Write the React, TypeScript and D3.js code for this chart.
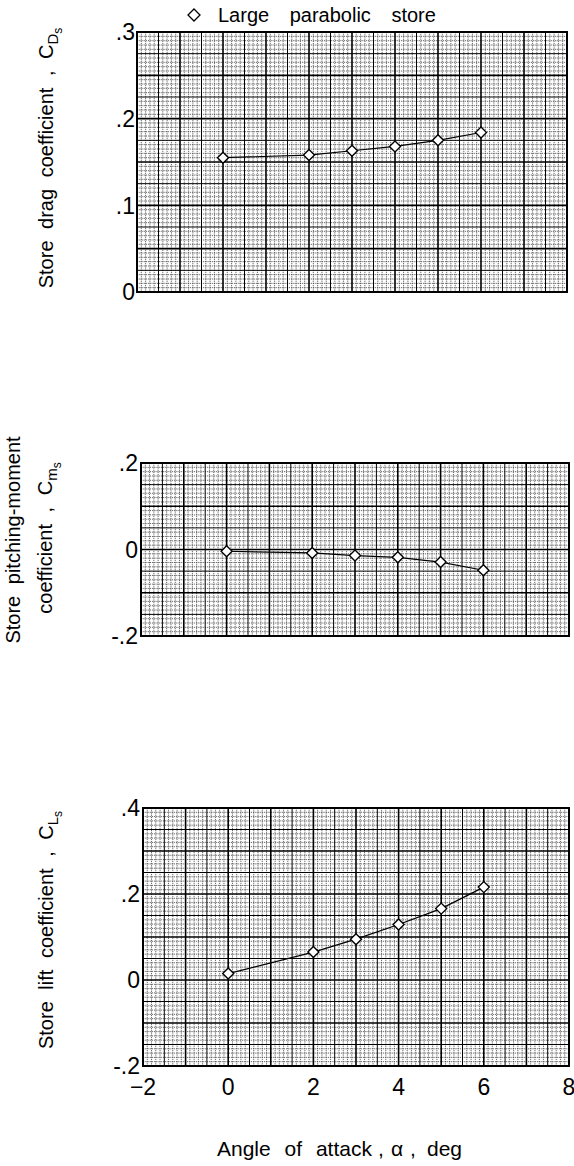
import React from "react";
import * as d3 from "d3";

const alpha = [0, 2, 3, 4, 5, 6];
const dragCoef = [0.155, 0.158, 0.163, 0.168, 0.175, 0.184];
const pitchCoef = [-0.004, -0.008, -0.014, -0.018, -0.029, -0.048];
const liftCoef = [0.015, 0.065, 0.095, 0.129, 0.166, 0.216];

const xTicks = [-2, 0, 2, 4, 6, 8];
const xTickLabels = ["\u22122", "0", "2", "4", "6", "8"];
const dragTicks = [0, 0.1, 0.2, 0.3];
const dragTickLabels = ["0", ".1", ".2", ".3"];
const pitchTicks = [-0.2, 0, 0.2];
const pitchTickLabels = ["-.2", "0", ".2"];
const liftTicks = [-0.2, 0, 0.2, 0.4];
const liftTickLabels = ["-.2", "0", ".2", ".4"];

const legendLabel = "Large parabolic store";
const xTitle = "Angle of attack";

const W = 574;
const H = 1166;
const FONT = "'Liberation Sans', Arial, sans-serif";

type Panel = {
  x0: number; x1: number; y0: number; y1: number;
  yDomain: [number, number];
  yFine: number;
  ticks: number[]; labels: string[];
  values: number[];
  labelRight: number;
};

const panels: Panel[] = [
  { x0: 137, x1: 567, y0: 32, y1: 292, yDomain: [0, 0.3], yFine: 0.005, ticks: dragTicks, labels: dragTickLabels, values: dragCoef, labelRight: 135 },
  { x0: 141, x1: 569, y0: 463, y1: 636, yDomain: [-0.2, 0.2], yFine: 0.01, ticks: pitchTicks, labels: pitchTickLabels, values: pitchCoef, labelRight: 138 },
  { x0: 143, x1: 569, y0: 808, y1: 1066, yDomain: [-0.2, 0.4], yFine: 0.01, ticks: liftTicks, labels: liftTickLabels, values: liftCoef, labelRight: 140 },
];

function diamond(cx: number, cy: number, r: number) {
  return `M${cx},${cy - r}L${cx + r},${cy}L${cx},${cy + r}L${cx - r},${cy}Z`;
}

function PanelView({ p, showX }: { p: Panel; showX: boolean }) {
  const x = d3.scaleLinear().domain([-2, 8]).range([p.x0, p.x1]);
  const y = d3.scaleLinear().domain(p.yDomain).range([p.y1, p.y0]);
  const nx = 100;
  const ny = Math.round((p.yDomain[1] - p.yDomain[0]) / p.yFine);
  const lines: React.ReactNode[] = [];
  const style = (i: number) =>
    i % 10 === 0
      ? { stroke: "#000", strokeWidth: 1.6 }
      : i % 5 === 0
      ? { stroke: "#000", strokeWidth: 1.0 }
      : { stroke: "#3a3a3a", strokeWidth: 0.75, strokeDasharray: "1.3,0.9" };
  for (const pass of [0, 1, 2]) {
    for (let i = 0; i <= nx; i++) {
      const lvl = i % 10 === 0 ? 2 : i % 5 === 0 ? 1 : 0;
      if (lvl !== pass) continue;
      const xv = x(-2 + i * 0.1);
      lines.push(<line key={`vx${i}`} x1={xv} x2={xv} y1={p.y0} y2={p.y1} {...style(i)} />);
    }
    for (let j = 0; j <= ny; j++) {
      const lvl = j % 10 === 0 ? 2 : j % 5 === 0 ? 1 : 0;
      if (lvl !== pass) continue;
      const yv = y(p.yDomain[0] + j * p.yFine);
      lines.push(<line key={`hy${j}`} x1={p.x0} x2={p.x1} y1={yv} y2={yv} {...style(j)} />);
    }
  }
  const pts = alpha.map((a, i) => [x(a), y(p.values[i])] as [number, number]);
  const path = d3.line()(pts) || "";
  return (
    <g>
      {lines}
      <rect x={p.x0} y={p.y0} width={p.x1 - p.x0} height={p.y1 - p.y0} fill="none" stroke="#000" strokeWidth={2} />
      <path d={path} fill="none" stroke="#000" strokeWidth={1.2} />
      {pts.map((pt, i) => (
        <path key={i} d={diamond(pt[0], pt[1], 5.5)} fill="#fff" stroke="#000" strokeWidth={1.4} />
      ))}
      {p.ticks.map((t, i) => (
        <text key={`t${i}`} x={p.labelRight} y={y(t)} dy="0.36em" textAnchor="end" fontSize={23} fontFamily={FONT} fill="#000">
          {p.labels[i]}
        </text>
      ))}
      {showX &&
        xTicks.map((t, i) => (
          <text key={`x${i}`} x={x(t)} y={1095} textAnchor="middle" fontSize={23} fontFamily={FONT} fill="#000">
            {xTickLabels[i]}
          </text>
        ))}
    </g>
  );
}

function Sub({ main, sub, subsub }: { main: string; sub: string; subsub: string }) {
  return (
    <>
      <tspan>{main}</tspan>
      <tspan fontSize={15} dy={5}>{sub}</tspan>
      <tspan fontSize={12} dy={4}>{subsub}</tspan>
    </>
  );
}

export default function App() {
  return (
    <svg width={W} height={H} viewBox={`0 0 ${W} ${H}`} style={{ position: "absolute", left: 0, top: 0, background: "#fff" }}>
      <rect x={0} y={0} width={W} height={H} fill="#fff" />
      <path d={diamond(194, 15, 6)} fill="#fff" stroke="#000" strokeWidth={1.3} />
      <text x={218} y={22} fontSize={20} fontFamily={FONT} wordSpacing={15} fill="#000">{legendLabel}</text>

      {panels.map((p, i) => (
        <PanelView key={i} p={p} showX={i === 2} />
      ))}

      <text transform="translate(53,158) rotate(-90)" textAnchor="middle" fontSize={20} fontFamily={FONT} wordSpacing={6} fill="#000">
        Store drag coefficient , <Sub main="C" sub="D" subsub="s" />
      </text>
      <text transform="translate(20,540) rotate(-90)" textAnchor="middle" fontSize={20} fontFamily={FONT} wordSpacing={6} fill="#000">
        Store pitching-moment
      </text>
      <text transform="translate(52,538) rotate(-90)" textAnchor="middle" fontSize={20} fontFamily={FONT} wordSpacing={6} fill="#000">
        coefficient , <Sub main="C" sub="m" subsub="s" />
      </text>
      <text transform="translate(53,930) rotate(-90)" textAnchor="middle" fontSize={20} fontFamily={FONT} wordSpacing={6} fill="#000">
        Store lift coefficient , <Sub main="C" sub="L" subsub="s" />
      </text>

      <text x={217} y={1156} fontSize={21} fontFamily={FONT} wordSpacing={8} fill="#000">
        {xTitle}
        <tspan x={378}>,</tspan>
        <tspan x={391}>{"\u03b1"}</tspan>
        <tspan x={410}>,</tspan>
        <tspan x={427}>deg</tspan>
      </text>
    </svg>
  );
}
